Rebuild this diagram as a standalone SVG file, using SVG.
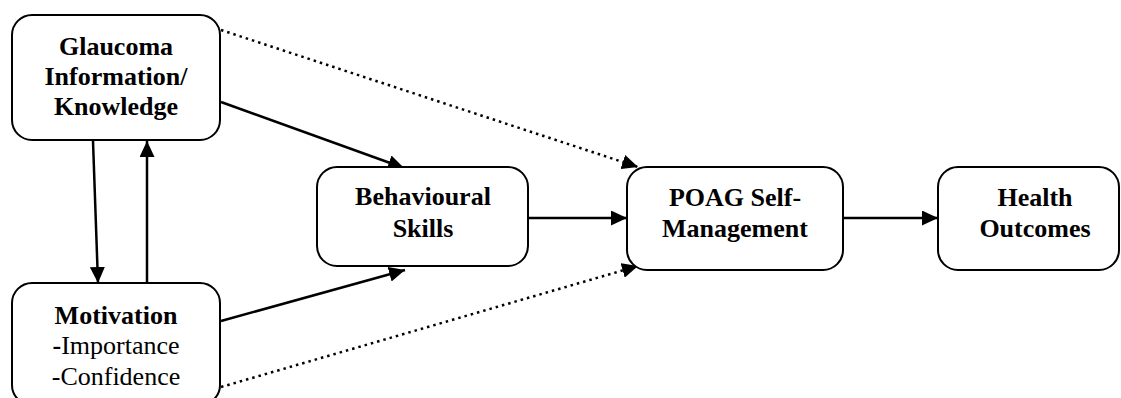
<svg xmlns="http://www.w3.org/2000/svg" width="1121" height="398" viewBox="0 0 1121 398">
<style>
.box{fill:#fff;stroke:#000;stroke-width:2}
.t{font-size:26px;fill:#000;text-anchor:middle}
.b{font-weight:bold}
.c{fill:none;stroke:#000;stroke-width:2.5}
.d{fill:none;stroke:#000;stroke-width:2.5;stroke-dasharray:2.5 4}
</style>
<defs>
<marker id="ah" markerUnits="userSpaceOnUse" markerWidth="17" markerHeight="15" refX="16" refY="7.5" orient="auto" viewBox="0 0 17 15">
<path d="M0,0 L16,7.5 L0,15 z" fill="#000"/>
</marker>
</defs>
<g id="connectors">
<path class="c" d="M221,102 L404,168" marker-end="url(#ah)"/>
<path class="c" d="M221,321 L405,270" marker-end="url(#ah)"/>
<path class="c" d="M93,141 L98,283" marker-end="url(#ah)"/>
<path class="c" d="M147,283 L147,141" marker-end="url(#ah)"/>
<path class="c" d="M528,218 L627,218" marker-end="url(#ah)"/>
<path class="c" d="M843,218 L938,218" marker-end="url(#ah)"/>
<path class="d" d="M221,30 L638,167" marker-end="url(#ah)"/>
<path class="d" d="M221,387 L638,266" marker-end="url(#ah)"/>
</g>
<g font-family="Liberation Serif, Times New Roman, serif">
<g id="glaucoma">
<rect class="box" x="12" y="15" width="208" height="125" rx="20"/>
<text class="t b" x="116" y="55">Glaucoma</text>
<text class="t b" x="116" y="85">Information/</text>
<text class="t b" x="116" y="115">Knowledge</text>
</g>
<g id="motivation">
<rect class="box" x="12" y="283" width="208" height="122" rx="20"/>
<text class="t b" x="116" y="324">Motivation</text>
<text class="t" x="116" y="354"><tspan class="b">-</tspan>Importance</text>
<text class="t" x="116" y="385">-Confidence</text>
</g>
<g id="behavioural">
<rect class="box" x="317" y="167" width="211" height="99" rx="20"/>
<text class="t b" x="423" y="205">Behavioural</text>
<text class="t b" x="423" y="237">Skills</text>
</g>
<g id="poag">
<rect class="box" x="627" y="167" width="216" height="103" rx="20"/>
<text class="t b" x="735" y="206">POAG Self-</text>
<text class="t b" x="735" y="237">Management</text>
</g>
<g id="health">
<rect class="box" x="938" y="167" width="181" height="103" rx="20"/>
<text class="t b" x="1035" y="206">Health</text>
<text class="t b" x="1035" y="237">Outcomes</text>
</g>
</g>
</svg>
